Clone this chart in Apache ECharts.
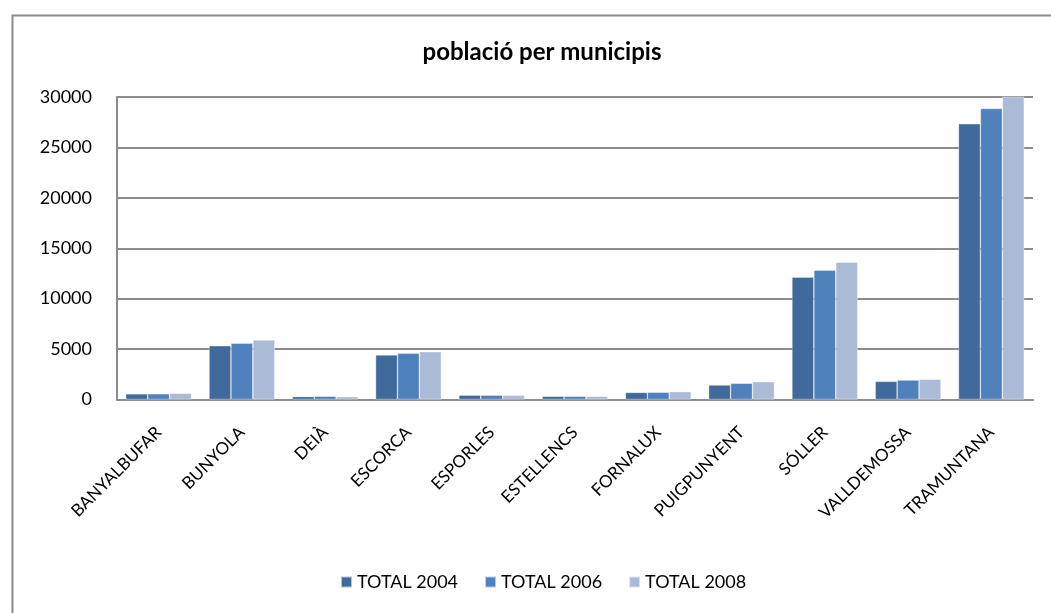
<!DOCTYPE html>
<html>
<head>
<meta charset="utf-8">
<script src="https://cdn.jsdelivr.net/npm/echarts@6/dist/echarts.min.js"></script>
<style>html,body{margin:0;padding:0;background:#fff}#c{width:1051px;height:613px}</style>
</head>
<body>
<div id="c"></div>
<script>
const categories = ['BANYALBUFAR','BUNYOLA','DEIÀ','ESCORCA','ESPORLES','ESTELLENCS','FORNALUX','PUIGPUNYENT','SÓLLER','VALLDEMOSSA','TRAMUNTANA'];
const total2004 = [560, 5340, 290, 4420, 430, 320, 700, 1440, 12140, 1800, 27350];
const total2006 = [570, 5580, 320, 4580, 430, 320, 720, 1610, 12830, 1930, 28860];
const total2008 = [620, 5910, 280, 4750, 420, 310, 780, 1770, 13620, 2000, 30400];
const yTicks = [0, 5000, 10000, 15000, 20000, 25000, 30000];

const font = 'Lato, "Open Sans", sans-serif';
const chart = echarts.init(document.getElementById('c'));
const barStyle = (c) => ({ color: c, borderColor: 'rgba(255,255,255,0.6)', borderWidth: 0.6 });
chart.setOption({
  animation: false,
  textStyle: { fontFamily: font },
  graphic: [{
    type: 'rect', left: 10, top: 13, silent: true,
    shape: { x: 0, y: 0, width: 1060, height: 620 },
    style: { fill: 'none', stroke: '#8c8c8c', lineWidth: 2 }
  }],
  title: {
    text: 'població per municipis',
    left: 537, top: 35, textAlign: 'center',
    textStyle: { fontFamily: font, fontSize: 24, fontWeight: 'bold', color: '#000' }
  },
  legend: {
    data: ['TOTAL 2004', 'TOTAL 2006', 'TOTAL 2008'],
    bottom: 17, left: 335,
    icon: 'rect', itemWidth: 11, itemHeight: 11, itemGap: 26,
    textStyle: { fontFamily: font, fontSize: 18, color: '#000' }
  },
  grid: { left: 117, right: 18, top: 97, bottom: 213.5, containLabel: false },
  xAxis: {
    type: 'category',
    data: categories,
    axisLine: { lineStyle: { color: '#8c8c8c', width: 2 } },
    axisTick: { show: false },
    axisLabel: { rotate: 45, fontSize: 17, color: '#000', margin: 30, fontFamily: font, interval: 0 }
  },
  yAxis: {
    type: 'value',
    min: yTicks[0], max: yTicks[yTicks.length - 1], interval: 5000,
    axisLine: { show: true, lineStyle: { color: '#8c8c8c', width: 2 } },
    axisTick: { show: false },
    splitLine: { lineStyle: { color: '#8c8c8c', width: 2 } },
    axisLabel: { fontSize: 18, color: '#000', margin: 25, fontFamily: font, formatter: (v) => String(v) }
  },
  series: [
    { name: 'TOTAL 2004', type: 'bar', data: total2004, barGap: '0%', barCategoryGap: '21%', itemStyle: barStyle('#3F6A9B') },
    { name: 'TOTAL 2006', type: 'bar', data: total2006, itemStyle: barStyle('#4F81BD') },
    { name: 'TOTAL 2008', type: 'bar', data: total2008, itemStyle: barStyle('#ABBAD7') }
  ]
});
</script>
</body>
</html>
